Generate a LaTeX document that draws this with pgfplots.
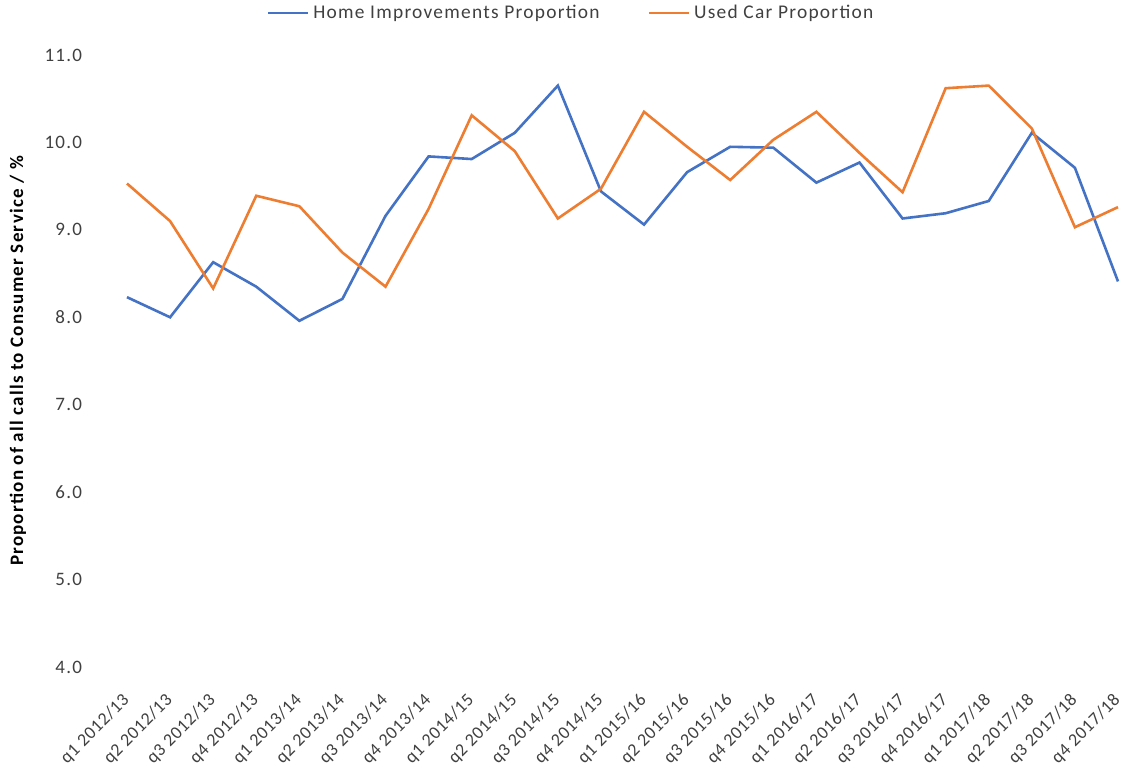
\documentclass[border=0pt]{standalone}
\usepackage{pgfplots}
\pgfplotsset{compat=1.18}
\usepackage{pgfplotstable}
\usepackage{fontspec}
\setmainfont{Carlito}[LetterSpace=6.5]
\newfontfamily\tickfont{Carlito}[LetterSpace=3]
\definecolor{xlblue}{RGB}{68,114,196}
\definecolor{xlorange}{RGB}{237,125,49}
\pgfplotstableread{
x home used
0 8.23 9.53
1 8.00 9.10
2 8.63 8.33
3 8.35 9.39
4 7.96 9.27
5 8.21 8.74
6 9.16 8.35
7 9.84 9.24
8 9.81 10.31
9 10.11 9.90
10 10.65 9.13
11 9.44 9.47
12 9.06 10.35
13 9.66 9.95
14 9.95 9.57
15 9.94 10.03
16 9.54 10.35
17 9.77 9.88
18 9.13 9.43
19 9.19 10.62
20 9.33 10.65
21 10.11 10.16
22 9.71 9.03
23 8.41 9.26
}\datatable
\begin{document}
\begin{tikzpicture}
\useasboundingbox (-63.5pt,-53.5pt) rectangle (498.5pt,333.5pt);
\begin{axis}[
  at={(0,0)}, anchor=south west,
  scale only axis,
  width=495.5pt, height=306pt,
  xmin=0, xmax=23, ymin=4, ymax=11,
  axis line style={draw=none},
  tick style={draw=none},
  ytick={4,5,6,7,8,9,10,11},
  /pgf/number format/fixed,
  /pgf/number format/fixed zerofill,
  /pgf/number format/precision=1,
  /pgf/number format/assume math mode=true,
  yticklabel style={font=\fontsize{9.5}{11}\selectfont\color{black!75}, anchor=east, xshift=-19pt},
  xtick={0,...,23},
  xticklabels={q1 2012/13,q2 2012/13,q3 2012/13,q4 2012/13,q1 2013/14,q2 2013/14,q3 2013/14,q4 2013/14,q1 2014/15,q2 2014/15,q3 2014/15,q4 2014/15,q1 2015/16,q2 2015/16,q3 2015/16,q4 2015/16,q1 2016/17,q2 2016/17,q3 2016/17,q4 2016/17,q1 2017/18,q2 2017/18,q3 2017/18,q4 2017/18},
  xticklabel style={font=\tickfont\fontsize{9}{10}\selectfont\color{black!75}, rotate=45, anchor=east, xshift=-7.6pt, yshift=-10.8pt},
  ylabel={Proportion of all calls to Consumer Service / \%},
  ylabel style={font=\fontsize{9.5}{11}\selectfont\bfseries, at={(axis description cs:-0.110,0.5)}, anchor=center},
  legend columns=2,
  legend style={draw=none, fill=none, at={(axis description cs:0.449,1.0686)}, anchor=center,
    font=\fontsize{9.7}{11}\selectfont\color{black!75},
    /tikz/every even column/.append style={column sep=22pt}},
  legend image code/.code={\draw[#1] (0pt,0pt) -- (20pt,0pt);},
  clip=false,
]
\addplot[xlblue, line width=1.3pt] table[x=x, y=home] {\datatable};
\addlegendentry{Home Improvements Proportion}
\addplot[xlorange, line width=1.3pt] table[x=x, y=used] {\datatable};
\addlegendentry{Used Car Proportion}
\end{axis}
\end{tikzpicture}
\end{document}
